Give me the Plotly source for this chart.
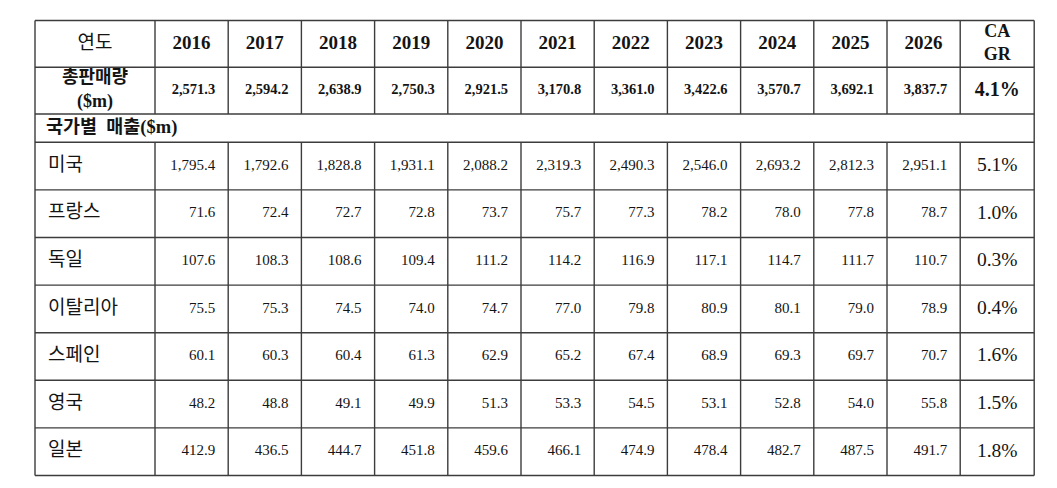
import plotly.graph_objects as go

years = ["2016", "2017", "2018", "2019", "2020", "2021", "2022", "2023", "2024", "2025", "2026"]

total_sales = [2571.3, 2594.2, 2638.9, 2750.3, 2921.5, 3170.8, 3361.0, 3422.6, 3570.7, 3692.1, 3837.7]
total_cagr = 4.1

countries = ["미국", "프랑스", "독일", "이탈리아", "스페인", "영국", "일본"]
sales_us = [1795.4, 1792.6, 1828.8, 1931.1, 2088.2, 2319.3, 2490.3, 2546.0, 2693.2, 2812.3, 2951.1]
sales_france = [71.6, 72.4, 72.7, 72.8, 73.7, 75.7, 77.3, 78.2, 78.0, 77.8, 78.7]
sales_germany = [107.6, 108.3, 108.6, 109.4, 111.2, 114.2, 116.9, 117.1, 114.7, 111.7, 110.7]
sales_italy = [75.5, 75.3, 74.5, 74.0, 74.7, 77.0, 79.8, 80.9, 80.1, 79.0, 78.9]
sales_spain = [60.1, 60.3, 60.4, 61.3, 62.9, 65.2, 67.4, 68.9, 69.3, 69.7, 70.7]
sales_uk = [48.2, 48.8, 49.1, 49.9, 51.3, 53.3, 54.5, 53.1, 52.8, 54.0, 55.8]
sales_japan = [412.9, 436.5, 444.7, 451.8, 459.6, 466.1, 474.9, 478.4, 482.7, 487.5, 491.7]
country_cagr = [5.1, 1.0, 0.3, 0.4, 1.6, 1.5, 1.8]

header_label = "연도"
cagr_label = "CA<br>GR"
total_label = "총판매량<br>($m)"
section_label = "국가별  매출($m)"

# ---- layout of the grid (page pixels) ----
W, H = 1057, 488
LEFT, TOP = 27, 12.5
label_w, year_w, cagr_w = 120, 73.2, 74
header_h, total_h, section_h, country_h = 46.8, 46.7, 28.3, 47.6
PAD = 13

SERIF = "Liberation Serif, Times New Roman, serif"
KOREAN = "Liberation Serif, Noto Sans CJK KR, sans-serif"
INK = "#141414"
GRID = "#3c3c3c"

col_edges = [LEFT, LEFT + label_w]
for _ in years:
    col_edges.append(col_edges[-1] + year_w)
col_edges.append(col_edges[-1] + cagr_w)

row_heights = [header_h, total_h, section_h] + [country_h] * len(countries)
row_edges = [TOP]
for h in row_heights:
    row_edges.append(row_edges[-1] + h)

col_mid = [(a + b) / 2 for a, b in zip(col_edges[:-1], col_edges[1:])]
row_mid = [(a + b) / 2 for a, b in zip(row_edges[:-1], row_edges[1:])]
year_cols = range(1, len(years) + 1)
cagr_col = len(years) + 1

fig = go.Figure()


def add_text(xs, ys, texts, position, family, size):
    fig.add_trace(
        go.Scatter(
            x=xs, y=ys, text=texts, mode="text",
            textposition=position,
            textfont=dict(family=family, size=size, color=INK),
            hoverinfo="skip", showlegend=False,
        )
    )


# header row
add_text([col_mid[0]], [row_mid[0]], [header_label], "middle center", KOREAN, 19)
add_text([col_mid[c] for c in year_cols], [row_mid[0]] * len(years),
         [f"<b>{y}</b>" for y in years], "middle center", SERIF, 19)
add_text([col_mid[cagr_col]], [row_mid[0]], [f"<b>{cagr_label}</b>"],
         "middle center", SERIF, 18)

# total row
add_text([col_mid[0]], [row_mid[1]], [f"<b>{total_label}</b>"], "middle center", KOREAN, 18)
add_text([col_edges[c + 1] - PAD for c in year_cols], [row_mid[1]] * len(years),
         [f"<b>{v:,.1f}</b>" for v in total_sales], "middle left", SERIF, 14.5)
add_text([col_mid[cagr_col]], [row_mid[1]], [f"<b>{total_cagr:.1f}%</b>"],
         "middle center", SERIF, 20)

# section row spanning the full width
add_text([LEFT + PAD - 2], [row_mid[2]], [f"<b>{section_label}</b>"], "middle right", KOREAN, 18.5)

# country rows
country_rows = [sales_us, sales_france, sales_germany, sales_italy,
                sales_spain, sales_uk, sales_japan]
for i, (name, values, cagr) in enumerate(zip(countries, country_rows, country_cagr)):
    y = row_mid[3 + i]
    add_text([LEFT + PAD], [y], [name], "middle right", KOREAN, 19)
    add_text([col_edges[c + 1] - PAD for c in year_cols], [y] * len(values),
             [f"{v:,.1f}" for v in values], "middle left", SERIF, 15)
    add_text([col_mid[cagr_col]], [y], [f"{cagr:.1f}%"], "middle center", SERIF, 19.5)

# grid lines
line = dict(color=GRID, width=1.4)
for y in row_edges:
    fig.add_shape(type="line", x0=col_edges[0], x1=col_edges[-1], y0=y, y1=y,
                  xref="x", yref="y", line=line)
for k, x in enumerate(col_edges):
    if k in (0, len(col_edges) - 1):
        spans = [(row_edges[0], row_edges[-1])]
    else:
        spans = [(row_edges[0], row_edges[2]), (row_edges[3], row_edges[-1])]
    for y0, y1 in spans:
        fig.add_shape(type="line", x0=x, x1=x, y0=y0, y1=y1,
                      xref="x", yref="y", line=line)

fig.update_xaxes(range=[0, W], visible=False, fixedrange=True)
fig.update_yaxes(range=[H, 0], visible=False, fixedrange=True)
fig.update_layout(
    width=W,
    height=H,
    margin=dict(l=0, r=0, t=0, b=0),
    paper_bgcolor="white",
    plot_bgcolor="white",
)

fig.write_html("out.html")
